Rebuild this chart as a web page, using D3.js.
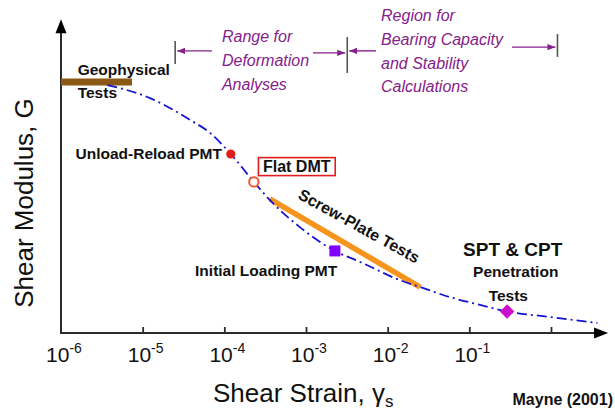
<!DOCTYPE html>
<html>
<head>
<meta charset="utf-8">
<script src="https://cdn.jsdelivr.net/npm/d3@7"></script>
<style>
  html, body { margin: 0; padding: 0; background: #fff; }
  svg { display: block; font-family: "Liberation Sans", Arial, Helvetica, sans-serif; }
</style>
</head>
<body>
<div id="chart"></div>
<script>
// G - shear strain curve with test ranges (after Mayne 2001)

// Main degradation curve, G normalised to Gmax
const curveStrain = [3.7e-6, 1.23e-5, 3.8e-5, 6.7e-5, 1.2e-4, 2.3e-4, 3.6e-4, 8.4e-4,
  2.26e-3, 4.6e-3, 1.4e-2, 2.5e-2, 5.8e-2, 0.135, 0.29, 0.97, 3.7];
const curveG = [0.988, 0.936, 0.849, 0.797, 0.713, 0.602, 0.530, 0.422,
  0.327, 0.283, 0.211, 0.183, 0.143, 0.112, 0.086, 0.064, 0.040];

// Geophysical tests band and screw-plate range
const geoStrain = [1e-6, 7.4e-6];
const geoG = [1.0, 1.0];
const screwStrain = [3.6e-4, 2.5e-2];
const screwG = [0.534, 0.183];

// Point tests
const testNames = ["Unload-Reload PMT", "Flat DMT", "Initial Loading PMT", "SPT & CPT"];
const testStrain = [1.2e-4, 2.3e-4, 2.26e-3, 0.29];
const testG = [0.713, 0.602, 0.327, 0.086];

// x axis ticks
const tickStrain = [1e-6, 1e-5, 1e-4, 1e-3, 1e-2, 1e-1, 1];
const tickExp = ["-6", "-5", "-4", "-3", "-2", "-1", ""];

// Range brackets at top
const rangeStrain = [2.5e-5, 3.2e-3, 1.2];
const rangeTopG = [1.163, 1.179, 1.191];
const rangeBottomG = [1.072, 1.036, 1.100];
const arrowFrom = [7.06e-5, 1.22e-3, 7.2e-3, 0.333];
const arrowTo = [2.5e-5, 3.2e-3, 3.2e-3, 1.2];
const arrowG = [1.124, 1.116, 1.124, 1.139];
const rangeText1 = ["Range for", "Deformation", "Analyses"];
const rangeText2 = ["Region for", "Bearing Capacity", "and Stability", "Calculations"];

const COLORS = {
  axis: "#2b2b2b",
  curve: "#1414d2",
  screw: "#f7941d",
  geo: "#8b5714",
  purple: "#86208a",
  red: "#e31b1b",
  open: "#f05a32",
  square: "#7f00ff",
  diamond: "#cc11cc",
  bracket: "#555",
};

const width = 615, height = 414;
const svg = d3.select("#chart").append("svg")
  .attr("width", width).attr("height", height);
svg.append("rect").attr("width", width).attr("height", height).attr("fill", "#fff");

const x = d3.scaleLog().domain([1e-6, 1]).range([61, 551]);
const y = d3.scaleLinear().domain([0, 1]).range([333, 82]);

const defs = svg.append("defs");
defs.append("marker")
  .attr("id", "arr").attr("markerUnits", "userSpaceOnUse")
  .attr("viewBox", "0 -4 8 8").attr("refX", 8).attr("refY", 0)
  .attr("markerWidth", 8).attr("markerHeight", 8).attr("orient", "auto")
  .append("path").attr("d", "M0,-3.2L8,0L0,3.2Z").attr("fill", COLORS.purple);

// Axes
const x0 = x(1e-6), y0 = y(0);
const xEnd = x(5.0), yTop = y(1.25);
svg.append("line").attr("x1", x0).attr("y1", y0).attr("x2", xEnd - 10).attr("y2", y0)
  .attr("stroke", COLORS.axis).attr("stroke-width", 2);
svg.append("line").attr("x1", x0).attr("y1", y0 + 1).attr("x2", x0).attr("y2", yTop + 10)
  .attr("stroke", COLORS.axis).attr("stroke-width", 2);
svg.append("path")
  .attr("d", `M${xEnd},${y0}L${xEnd - 14},${y0 - 5.5}L${xEnd - 14},${y0 + 5.5}Z`)
  .attr("fill", "#000");
svg.append("path")
  .attr("d", `M${x0},${yTop}L${x0 - 5.5},${yTop + 14}L${x0 + 5.5},${yTop + 14}Z`)
  .attr("fill", "#000");

const xAxis = svg.append("g")
  .attr("transform", `translate(0,${y0})`)
  .call(d3.axisBottom(x).tickValues(tickStrain.slice(1)).tickSize(-6).tickFormat(""));
xAxis.select(".domain").remove();
xAxis.selectAll(".tick line").attr("stroke", COLORS.axis).attr("stroke-width", 1.8);

tickStrain.forEach((s, i) => {
  if (!tickExp[i]) return;
  const t = svg.append("text")
    .attr("x", x(s) + 3).attr("y", 362)
    .attr("text-anchor", "middle")
    .attr("font-size", 21).attr("fill", "#111");
  t.append("tspan").text("10");
  t.append("tspan").attr("font-size", 14).attr("dy", -9).text(tickExp[i]);
});

// Axis titles
svg.append("text")
  .attr("transform", "translate(33,203) rotate(-90)")
  .attr("text-anchor", "middle").attr("font-size", 26).attr("fill", "#111")
  .text("Shear Modulus, G");
const xt = svg.append("text").attr("x", 213).attr("y", 402)
  .attr("font-size", 26).attr("fill", "#111");
xt.append("tspan").text("Shear Strain, γ");
xt.append("tspan").attr("font-size", 17).attr("dy", 5).text("s");

svg.append("text").attr("x", 613).attr("y", 405).attr("text-anchor", "end")
  .attr("font-size", 16).attr("font-weight", "bold").attr("fill", "#111")
  .text("Mayne (2001)");

// Geophysical band
svg.append("line")
  .attr("x1", x(geoStrain[0])).attr("x2", x(geoStrain[1]))
  .attr("y1", y(geoG[0])).attr("y2", y(geoG[1]))
  .attr("stroke", COLORS.geo).attr("stroke-width", 7);

// Screw-plate range
svg.append("line")
  .attr("x1", x(screwStrain[0])).attr("x2", x(screwStrain[1]))
  .attr("y1", y(screwG[0])).attr("y2", y(screwG[1]))
  .attr("stroke", COLORS.screw).attr("stroke-width", 5.5);

// Curve
const curveData = curveStrain.map((s, i) => ({ s, g: curveG[i] }));
svg.append("path")
  .datum(curveData)
  .attr("fill", "none")
  .attr("stroke", COLORS.curve)
  .attr("stroke-width", 1.8)
  .attr("stroke-dasharray", "10,4,2,4")
  .attr("d", d3.line().curve(d3.curveMonotoneX).x(d => x(d.s)).y(d => y(d.g)));

// Test markers
const sym = [
  { type: d3.symbolCircle, size: 66, fill: COLORS.red, stroke: "none", rot: 0 },
  { type: d3.symbolCircle, size: 70, fill: "#fff", stroke: COLORS.open, rot: 0 },
  { type: d3.symbolSquare, size: 121, fill: COLORS.square, stroke: "none", rot: 0 },
  { type: d3.symbolSquare, size: 105, fill: COLORS.diamond, stroke: "none", rot: 45 },
];
testNames.forEach((name, i) => {
  const m = sym[i];
  svg.append("path")
    .attr("transform", `translate(${x(testStrain[i])},${y(testG[i])}) rotate(${m.rot})`)
    .attr("d", d3.symbol(m.type, m.size)())
    .attr("fill", m.fill)
    .attr("stroke", m.stroke)
    .attr("stroke-width", 2);
});

// Labels
function label(s, g, str, opts = {}) {
  return svg.append("text")
    .attr("x", x(s)).attr("y", y(g))
    .attr("text-anchor", opts.anchor || "start")
    .attr("font-size", opts.size || 15.5)
    .attr("font-weight", opts.weight || "bold")
    .attr("fill", opts.fill || "#111")
    .text(str);
}

label(1.6e-6, 1.028, "Geophysical");
label(1.6e-6, 0.936, "Tests");
label(9.35e-5, 0.693, testNames[0], { anchor: "end" });
label(4.38e-5, 0.227, testNames[2]);
label(0.34, 0.307, testNames[3], { anchor: "middle", size: 19 });
label(0.37, 0.223, "Penetration", { anchor: "middle" });
label(0.30, 0.127, "Tests", { anchor: "middle" });

const dmt = label(2.97e-4, 0.641, testNames[1], { size: 16 });
const bb = dmt.node().getBBox();
svg.append("rect")
  .attr("x", bb.x - 4.5).attr("y", bb.y - 0.5)
  .attr("width", bb.width + 9).attr("height", bb.height + 1)
  .attr("fill", "none").attr("stroke", COLORS.red).attr("stroke-width", 1.6);

svg.append("text")
  .attr("transform", `translate(${x(4.46e-3)},${y(0.426)}) rotate(29)`)
  .attr("text-anchor", "middle").attr("dominant-baseline", "central")
  .attr("font-size", 16).attr("font-weight", "bold").attr("fill", "#111")
  .text("Screw-Plate Tests");

// Range brackets
rangeStrain.forEach((s, i) => {
  svg.append("line")
    .attr("x1", x(s)).attr("x2", x(s))
    .attr("y1", y(rangeTopG[i])).attr("y2", y(rangeBottomG[i]))
    .attr("stroke", COLORS.bracket).attr("stroke-width", 1.6);
});
arrowFrom.forEach((s, i) => {
  const xa = x(s), xb = x(arrowTo[i]);
  const dir = xb > xa ? -2 : 2;
  svg.append("line")
    .attr("x1", xa).attr("x2", xb + dir)
    .attr("y1", y(arrowG[i])).attr("y2", y(arrowG[i]))
    .attr("stroke", COLORS.purple).attr("stroke-width", 1.4)
    .attr("marker-end", "url(#arr)");
});

function block(s, g, lines) {
  const t = svg.append("text")
    .attr("x", x(s)).attr("y", y(g))
    .attr("font-size", 16).attr("font-style", "italic")
    .attr("fill", COLORS.purple);
  lines.forEach((l, i) => {
    t.append("tspan").attr("x", x(s)).attr("dy", i ? 23.8 : 0).text(l);
  });
}
block(9.35e-5, 1.159, rangeText1);
block(8.3e-3, 1.243, rangeText2);
</script>
</body>
</html>
